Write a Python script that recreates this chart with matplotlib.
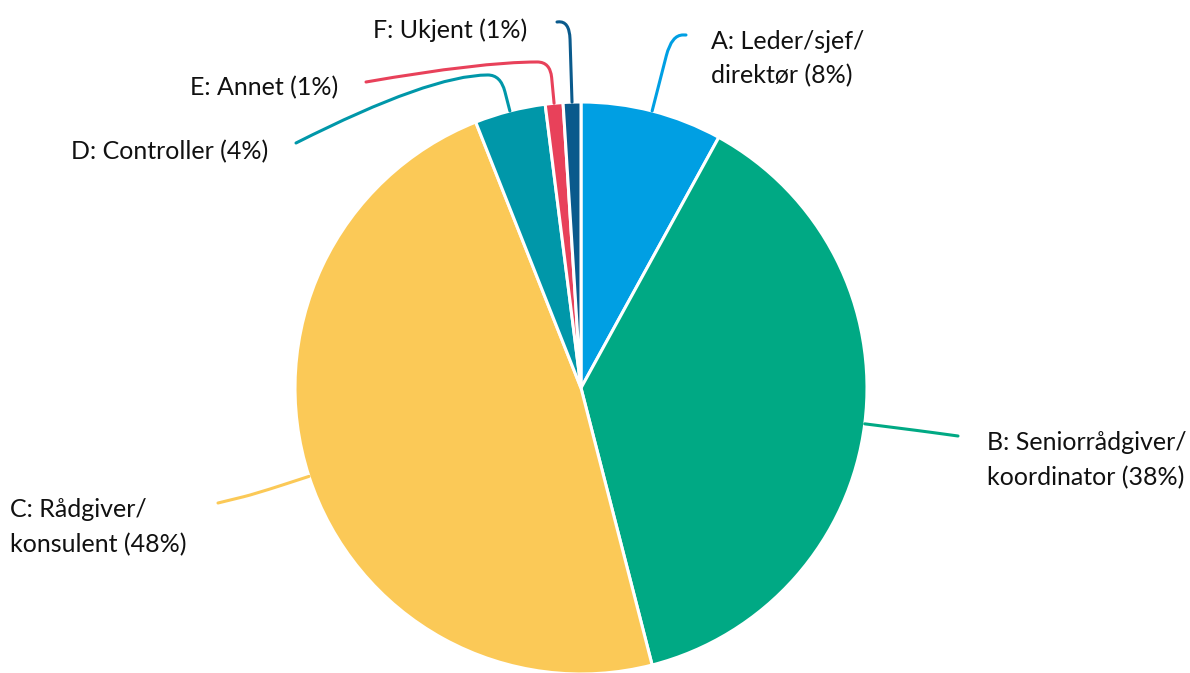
import numpy as np
import matplotlib
matplotlib.use('Agg')
import matplotlib.pyplot as plt
from matplotlib.path import Path
from matplotlib.patches import PathPatch

plt.rcParams['font.family'] = ['Lato', 'DejaVu Sans']

labels = ['A: Leder/sjef/\ndirektør (8%)', 'B: Seniorrådgiver/\nkoordinator (38%)',
          'C: Rådgiver/\nkonsulent (48%)', 'D: Controller (4%)',
          'E: Annet (1%)', 'F: Ukjent (1%)']
values = [8, 38, 48, 4, 1, 1]
colors = ['#009FE3', '#00A984', '#FBC957', '#0097A9', '#E8415A', '#0A5A8C']

# pixel -> data helpers (pie centre at 581,388, radius 286 px)
CX, CY, R = 581, 388, 286
W, H = 1190, 673


def px(x, y):
    return ((x - CX) / R, (CY - y) / R)


fig = plt.figure(figsize=(W / 100, H / 100), dpi=100)
ax = fig.add_axes([0, 0, 1, 1])

wedges, _ = ax.pie(values, colors=colors, startangle=90, counterclock=False,
                   radius=1, center=(0, 0), frame=True,
                   wedgeprops=dict(edgecolor='white', linewidth=2.2))
ax.set_xlim(-CX / R, (W - CX) / R)
ax.set_ylim(-(H - CY) / R, CY / R)
ax.set_aspect('equal')
ax.axis('off')

# leader layout: (radius where straight part ends, corner radius, end pixel)
leaders = [
    (1.20, 1.275, (686, 35)),
    (1.10, 1.20, (958, 436)),
    (1.10, 1.20, (218, 503)),
    (1.07, 1.13, (296, 143)),
    (1.09, 1.145, (366, 82)),
    (1.22, 1.285, (557, 22)),
]
# text lines: (x px, baseline px, ha)
text_pos = [
    (711, [49, 83], 'left'),
    (987, [450, 485], 'left'),
    (10, [517, 552], 'left'),
    (268, [159], 'right'),
    (338, [95], 'right'),
    (527, [38], 'right'),
]

for w, col, (rq, rk, end), lab, (tx, tys, ha) in zip(wedges, colors, leaders, labels, text_pos):
    theta = np.deg2rad((w.theta1 + w.theta2) / 2)
    u = np.array([np.cos(theta), np.sin(theta)])
    s, q, k = u * 1.0, u * rq, u * rk
    e = np.array(px(*end))
    d = e - k
    dist = np.hypot(*d)
    if dist < 0.15 or rq == 1.10:
        m = k + d / dist * min(0.04, dist)
        verts = [s, q, k, m, e]
        codes = [Path.MOVETO, Path.LINETO, Path.CURVE3, Path.CURVE3, Path.LINETO]
    else:
        hx = np.sign(d[0])
        m = k + np.array([hx * 0.045, 0])
        c = m + np.array([hx * 0.2, 0])
        verts = [s, q, k, m, c, e]
        codes = [Path.MOVETO, Path.LINETO, Path.CURVE3, Path.CURVE3,
                 Path.CURVE3, Path.CURVE3]
    ax.add_patch(PathPatch(Path(verts, codes), facecolor='none', edgecolor=col,
                           linewidth=2.2, capstyle='round'))
    for line, ty in zip(lab.split('\n'), tys):
        x, y = px(tx, ty)
        ax.text(x, y, line, ha=ha, va='baseline', fontsize=18, color='#111111')

fig.savefig('out.png', dpi=100, facecolor='white')
